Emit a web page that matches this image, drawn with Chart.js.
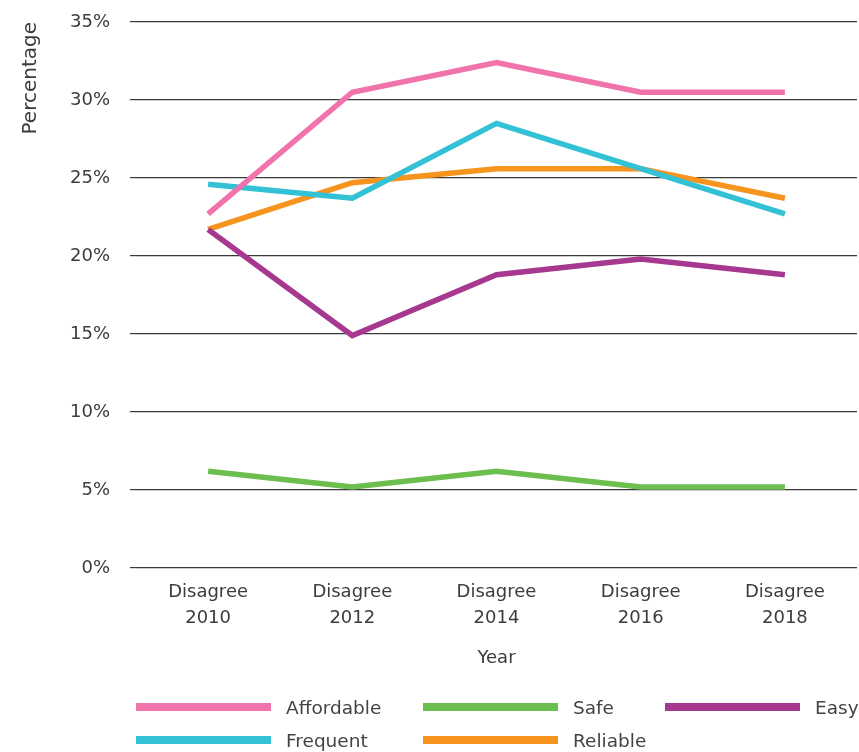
<!DOCTYPE html>
<html lang="en">
<head>
  <meta charset="UTF-8">
  <title>Disagree by year</title>
  <script src="https://cdn.jsdelivr.net/npm/chart.js"></script>
  <style>
    body {
      margin: 0;
      background: #fff;
      font-family: "DejaVu Sans", sans-serif;
      color: #333;
    }
    #wrap {
      position: relative;
      width: 859px;
      height: 752px;
    }
    #legend {
      position: absolute;
      left: 136px;
      top: 695px;
      display: grid;
      grid-template-columns: 287px 242px auto;
      row-gap: 9px;
      font-size: 18.5px;
      color: #444;
    }
    #legend .item {
      display: flex;
      align-items: center;
      height: 24px;
    }
    #legend .swatch {
      width: 135px;
      height: 8px;
      margin-right: 15px;
    }
  </style>
</head>
<body>

<div id="wrap">
  <canvas id="lineChart"></canvas>
  <div id="legend"></div>
</div>

<script>
  const categories = [
    ['Disagree', '2010'],
    ['Disagree', '2012'],
    ['Disagree', '2014'],
    ['Disagree', '2016'],
    ['Disagree', '2018']
  ];
  const affordable = [22.7, 30.5, 32.4, 30.5, 30.5];
  const safe       = [6.2, 5.2, 6.2, 5.2, 5.2];
  const easy       = [21.7, 14.9, 18.8, 19.8, 18.8];
  const frequent   = [24.6, 23.7, 28.5, 25.6, 22.7];
  const reliable   = [21.7, 24.7, 25.6, 25.6, 23.7];
  const yTicks = [0, 5, 10, 15, 20, 25, 30, 35];

  const font = 'DejaVu Sans';
  const textColor = '#3c3c3c';

  function series(label, data, color, order) {
    return {
      label: label,
      data: data,
      borderColor: color,
      backgroundColor: color,
      borderWidth: 5.5,
      pointRadius: 0,
      tension: 0,
      order: order
    };
  }

  // keep the plot box where the layout padding puts it
  function noEdgePadding(scale) {
    scale.paddingTop = 0;
    scale.paddingBottom = 0;
    scale.paddingLeft = 0;
    scale.paddingRight = 0;
  }

  const chart = new Chart(document.getElementById('lineChart'), {
    type: 'line',
    data: {
      labels: categories,
      datasets: [
        series('Affordable', affordable, '#f173ac', 1),
        series('Safe', safe, '#6cbe4f', 5),
        series('Easy', easy, '#a6398f', 3),
        series('Frequent', frequent, '#33c1d6', 2),
        series('Reliable', reliable, '#f7941e', 4)
      ]
    },
    options: {
      responsive: true,
      maintainAspectRatio: false,
      animation: false,
      layout: {
        padding: { top: 22, right: 2, bottom: 72, left: 10 }
      },
      plugins: {
        legend: { display: false },
        tooltip: { enabled: false }
      },
      scales: {
        x: {
          offset: true,
          grid: { display: false },
          border: { display: false },
          ticks: {
            color: textColor,
            padding: 3,
            font: { family: font, size: 18, lineHeight: 1.45 }
          },
          title: {
            display: true,
            text: 'Year',
            color: textColor,
            font: { family: font, size: 18 },
            padding: { top: 0, bottom: 11 }
          },
          afterFit(scale) {
            scale.height = 112;
            noEdgePadding(scale);
          }
        },
        y: {
          min: 0,
          max: yTicks[yTicks.length - 1],
          afterBuildTicks(scale) {
            scale.ticks = yTicks.map(v => ({ value: v }));
          },
          grid: {
            color: '#3a3a3a',
            lineWidth: 1.2,
            tickLength: 6,
            drawTicks: true
          },
          border: { display: false },
          ticks: {
            color: textColor,
            padding: 20,
            font: { family: font, size: 18 },
            callback: v => v + '%'
          },
          title: {
            display: true,
            text: 'Percentage',
            align: 'end',
            color: textColor,
            font: { family: font, size: 20 },
            padding: { top: 9, bottom: 0 }
          },
          afterFit(scale) {
            scale.width = 126;
            noEdgePadding(scale);
          }
        }
      }
    }
  });

  // legend laid out as a grid: Affordable, Safe, Easy / Frequent, Reliable
  const legend = document.getElementById('legend');
  chart.data.datasets.forEach(ds => {
    const item = document.createElement('div');
    item.className = 'item';
    const sw = document.createElement('span');
    sw.className = 'swatch';
    sw.style.background = ds.borderColor;
    const txt = document.createElement('span');
    txt.textContent = ds.label;
    item.appendChild(sw);
    item.appendChild(txt);
    legend.appendChild(item);
  });
</script>

</body>
</html>
